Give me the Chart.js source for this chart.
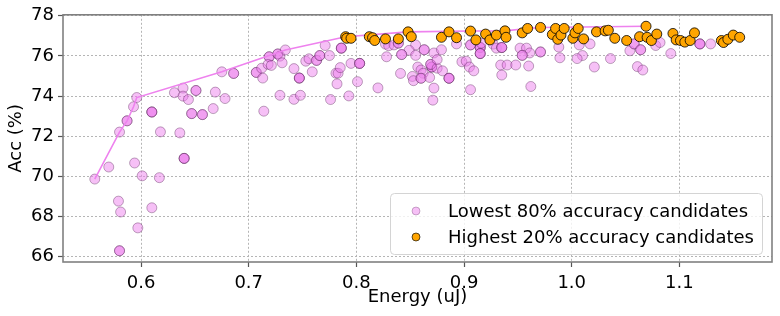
<!DOCTYPE html>
<html>
<head>
<meta charset="utf-8">
<script src="https://cdn.jsdelivr.net/npm/chart.js@4.4.1/dist/chart.umd.min.js"></script>
<style>
  html, body { margin: 0; padding: 0; background: #fff; }
  #wrap { width: 780px; height: 316px; position: relative; }
</style>
</head>
<body>
<div id="wrap"><canvas id="accChart"></canvas></div>
<script>
// --- data ---
// lowest 80% candidates (count = how many candidates sit on the same spot)
const lowX = [
  0.557, 0.570, 0.594, 0.580, 0.587, 0.593, 0.596, 0.610, 0.618, 0.636,
  0.640, 0.631, 0.639, 0.639, 0.644, 0.651, 0.647, 0.657, 0.601, 0.617,
  0.579, 0.581, 0.610, 0.597, 0.580, 0.667, 0.669, 0.678, 0.675, 0.686,
  0.707, 0.712, 0.713, 0.714, 0.719, 0.718, 0.721, 0.727, 0.729, 0.734,
  0.731, 0.729, 0.742, 0.747, 0.742, 0.748, 0.753, 0.756, 0.759, 0.763,
  0.766, 0.771, 0.775, 0.776, 0.782, 0.781, 0.783, 0.785, 0.786, 0.795,
  0.793, 0.803, 0.801, 0.827, 0.830, 0.835, 0.839, 0.855, 0.849, 0.855,
  0.863, 0.842, 0.828, 0.841, 0.820, 0.857, 0.852, 0.853, 0.860, 0.862,
  0.860, 0.868, 0.870, 0.869, 0.875, 0.872, 0.871, 0.872, 0.875, 0.880,
  0.879, 0.886, 0.893, 0.898, 0.902, 0.905, 0.909, 0.906, 0.906, 0.915,
  0.915, 0.916, 0.927, 0.930, 0.935, 0.934, 0.935, 0.940, 0.952, 0.958,
  0.961, 0.954, 0.971, 0.988, 0.989, 0.948, 0.960, 0.962, 1.007, 1.017,
  1.010, 1.005, 1.021, 1.036, 1.054, 1.058, 1.064, 1.061, 1.066, 1.078,
  1.082, 1.092, 1.119, 1.129
];
const lowY = [
  69.87, 70.47, 70.67, 72.21, 72.77, 73.47, 73.93, 73.21, 72.22, 72.17,
  70.90, 74.17, 74.40, 74.00, 73.83, 74.28, 73.13, 73.08, 70.03, 69.94,
  68.77, 68.23, 68.44, 67.44, 66.30, 73.38, 74.20, 73.88, 75.21, 75.13,
  75.18, 75.39, 74.90, 73.25, 75.96, 75.58, 75.53, 76.10, 75.99, 76.30,
  75.66, 74.04, 75.37, 74.90, 73.84, 74.04, 75.74, 75.86, 75.21, 75.78,
  76.02, 76.52, 76.02, 73.83, 74.61, 75.14, 75.14, 75.42, 76.39, 75.63,
  74.01, 75.63, 74.72, 76.59, 76.51, 76.55, 76.64, 76.55, 76.28, 76.03,
  76.31, 76.07, 75.96, 75.13, 74.41, 75.45, 74.98, 74.77, 75.30, 75.14,
  74.89, 74.93, 75.45, 75.58, 75.39, 74.40, 73.80, 76.15, 75.82, 75.26,
  76.31, 74.89, 76.60, 75.71, 75.74, 75.45, 75.26, 74.32, 76.55, 76.42,
  76.12, 76.64, 76.59, 76.39, 76.42, 75.55, 75.05, 75.55, 76.39, 76.39,
  76.15, 76.03, 76.20, 76.44, 75.91, 75.55, 75.50, 74.48, 76.55, 76.60,
  76.02, 75.87, 75.45, 75.87, 76.26, 76.60, 76.31, 75.47, 75.30, 76.52,
  76.67, 76.12, 76.60, 76.60
];
const lowCount = [
  1, 1, 1, 1, 2, 1, 1, 3, 1, 1,
  3, 1, 1, 1, 1, 2, 2, 2, 1, 1,
  1, 1, 1, 1, 2, 1, 1, 1, 1, 2,
  2, 1, 1, 1, 2, 1, 1, 2, 1, 1,
  1, 1, 1, 3, 1, 1, 1, 1, 1, 2,
  2, 1, 1, 1, 1, 1, 1, 1, 3, 1,
  1, 3, 1, 1, 1, 1, 2, 1, 1, 1,
  2, 2, 1, 1, 1, 1, 1, 1, 1, 1,
  2, 1, 3, 2, 1, 1, 1, 1, 1, 1,
  1, 3, 1, 1, 1, 1, 1, 1, 2, 3,
  3, 1, 1, 1, 3, 1, 1, 1, 1, 1,
  1, 2, 2, 1, 1, 1, 1, 1, 1, 1,
  1, 1, 1, 1, 1, 2, 2, 1, 1, 1,
  1, 1, 3, 1
];

// highest 20% candidates
const highX = [
  0.790, 0.791, 0.795, 0.812, 0.815, 0.817, 0.827, 0.839, 0.848, 0.851,
  0.879, 0.886, 0.893, 0.906, 0.911, 0.920, 0.924, 0.930, 0.938, 0.939,
  0.954, 0.959, 0.971, 0.982, 0.985, 0.987, 0.990, 0.993, 1.001, 1.003,
  1.006, 1.011, 1.023, 1.031, 1.034, 1.040, 1.051, 1.063, 1.069, 1.070,
  1.074, 1.079, 1.094, 1.097, 1.101, 1.105, 1.110, 1.114, 1.139, 1.141,
  1.145, 1.150, 1.156
];
const highY = [
  76.96, 76.88, 76.88, 76.96, 76.91, 76.77, 76.85, 76.85, 77.20, 76.96,
  76.93, 77.20, 76.91, 77.24, 76.80, 77.09, 76.80, 77.04, 77.25, 76.93,
  77.15, 77.37, 77.42, 77.07, 77.37, 76.83, 77.04, 77.37, 76.88, 77.15,
  77.37, 76.85, 77.20, 77.25, 77.28, 76.88, 76.77, 76.96, 77.48, 76.93,
  76.77, 77.09, 77.12, 76.80, 76.77, 76.69, 76.77, 77.15, 76.77, 76.67,
  76.83, 77.04, 76.93
];

// pareto front
const frontX = [0.557, 0.580, 0.587, 0.593, 0.596, 0.675, 0.734, 0.790, 0.848, 0.906, 0.938, 0.959, 0.971, 1.069];
const frontY = [69.87, 72.21, 72.77, 73.47, 73.93, 75.21, 76.30, 76.96, 77.20, 77.24, 77.25, 77.37, 77.42, 77.48];

const xTicks = [0.6, 0.7, 0.8, 0.9, 1.0, 1.1];
const yTicks = [66, 68, 70, 72, 74, 76, 78];

const lowLabel = 'Lowest 80% accuracy candidates';
const highLabel = 'Highest 20% accuracy candidates';

// --- build points ---
function toPoints(xs, ys, counts) {
    const pts = [];
    xs.forEach((x, i) => {
        const n = counts ? counts[i] : 1;
        for (let k = 0; k < n; k++) pts.push({ x: x, y: ys[i] });
    });
    return pts;
}

const FONT = '"DejaVu Sans", sans-serif';

// frame around the plot area (matplotlib-style spines)
const framePlugin = {
    id: 'frame',
    afterDatasetsDraw(chart) {
        const a = chart.chartArea;
        const ctx = chart.ctx;
        ctx.save();
        ctx.strokeStyle = '#808080';
        ctx.lineWidth = 1.6;
        ctx.strokeRect(a.left, a.top, a.right - a.left, a.bottom - a.top);
        ctx.restore();
    }
};

// legend box in the lower right corner
const legendPlugin = {
    id: 'boxLegend',
    afterDraw(chart) {
        const ctx = chart.ctx;
        const x0 = 390, y0 = 193, w = 372, h = 61;
        ctx.save();
        ctx.fillStyle = 'rgba(255,255,255,0.8)';
        ctx.strokeStyle = '#d4d4d4';
        ctx.lineWidth = 1;
        ctx.beginPath();
        ctx.roundRect(x0 + 0.5, y0 + 0.5, w, h, 4);
        ctx.fill();
        ctx.stroke();

        const rows = [
            { ds: chart.data.datasets[0], y: y0 + 18 },
            { ds: chart.data.datasets[2], y: y0 + 44 }
        ];
        ctx.font = '18px ' + FONT;
        ctx.textBaseline = 'middle';
        rows.forEach(r => {
            ctx.beginPath();
            ctx.arc(x0 + 26, r.y, 4, 0, Math.PI * 2);
            ctx.fillStyle = r.ds.backgroundColor;
            ctx.fill();
            ctx.lineWidth = 0.8;
            ctx.strokeStyle = r.ds.borderColor;
            ctx.stroke();
            ctx.fillStyle = '#000';
            ctx.fillText(r.ds.label, x0 + 58, r.y + 1);
        });
        ctx.restore();
    }
};

new Chart(document.getElementById('accChart'), {
    type: 'scatter',
    data: {
        datasets: [
            {
                label: lowLabel,
                data: toPoints(lowX, lowY, lowCount),
                backgroundColor: 'rgba(238,130,238,0.5)',
                borderColor: 'rgba(70,20,70,0.35)',
                borderWidth: 1,
                pointRadius: 5,
                pointHoverRadius: 5,
                order: 3
            },
            {
                label: 'front',
                type: 'line',
                data: toPoints(frontX, frontY),
                borderColor: '#ee82ee',
                borderWidth: 1.6,
                pointRadius: 0,
                fill: false,
                tension: 0,
                order: 2
            },
            {
                label: highLabel,
                data: toPoints(highX, highY),
                backgroundColor: '#ffa500',
                borderColor: 'rgba(0,0,0,0.8)',
                borderWidth: 1,
                pointRadius: 5,
                pointHoverRadius: 5,
                order: 1
            }
        ]
    },
    options: {
        responsive: true,
        maintainAspectRatio: false,
        animation: false,
        events: [],
        layout: { padding: { top: 10, right: 8, left: 0, bottom: 0 } },
        plugins: {
            legend: { display: false },
            tooltip: { enabled: false }
        },
        scales: {
            x: {
                type: 'linear',
                min: 0.5275,
                max: 1.186,
                afterBuildTicks: s => { s.ticks = xTicks.map(v => ({ value: v })); },
                afterFit: s => { s.height = 54; },
                ticks: {
                    color: '#000',
                    font: { family: FONT, size: 18 },
                    padding: 6,
                    maxRotation: 0,
                    callback: v => v.toFixed(1)
                },
                grid: { color: '#b5b5b5', lineWidth: 1, tickLength: 5, tickColor: '#555', tickWidth: 1.2 },
                border: { display: false, dash: [2, 2] },
                title: {
                    display: true,
                    text: 'Energy (uJ)',
                    color: '#000',
                    font: { family: FONT, size: 18 },
                    padding: { top: 0, bottom: 8 }
                }
            },
            y: {
                type: 'linear',
                min: 65.74,
                max: 78.05,
                afterBuildTicks: s => { s.ticks = yTicks.map(v => ({ value: v })); },
                afterFit: s => { s.width = 63; },
                ticks: {
                    color: '#000',
                    font: { family: FONT, size: 18 },
                    padding: 4,
                    callback: v => String(v)
                },
                grid: { color: '#b5b5b5', lineWidth: 1, tickLength: 5, tickColor: '#555', tickWidth: 1.2 },
                border: { display: false, dash: [2, 2] },
                title: {
                    display: true,
                    text: 'Acc (%)',
                    color: '#000',
                    font: { family: FONT, size: 18 },
                    padding: { top: 6, bottom: 0 }
                }
            }
        }
    },
    plugins: [framePlugin, legendPlugin]
});
</script>
</body>
</html>
